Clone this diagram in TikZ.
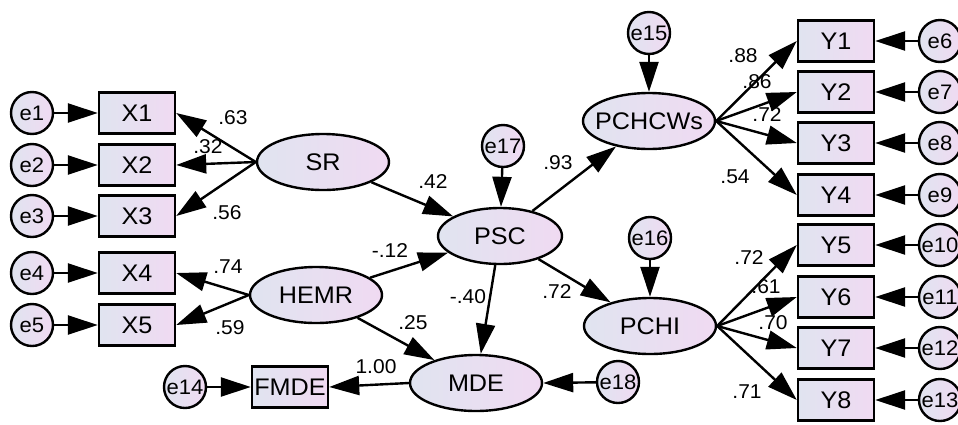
\documentclass[tikz,border=0pt]{standalone}
\usepackage{fontspec}
\setmainfont{Liberation Sans}[FakeStretch=1.05]
\usetikzlibrary{shapes.geometric,arrows.meta}
\definecolor{cL}{RGB}{224,228,240}
\definecolor{cR}{RGB}{240,218,242}
\newcommand\mysize[1]{\fontsize{#1}{#1}\selectfont}
\tikzset{
  base/.style={draw, line width=2.4pt, left color=cL, right color=cR, inner sep=0pt},
  obs/.style={base, rectangle, minimum width=76pt, minimum height=41pt,
    label={[font=\mysize{24}, inner sep=0pt]center:#1}},
  lat/.style={base, ellipse, minimum width=132pt, minimum height=56pt,
    label={[font=\mysize{24}, inner sep=0pt]center:#1}},
  err/.style={base, circle, minimum size=42pt,
    label={[font=\mysize{21}, inner sep=0pt]center:#1}},
  arr/.style={line width=2.4pt, -{Triangle[length=30pt,width=19pt]}},
  lab/.style={font=\mysize{20}, inner sep=0pt}
}
\begin{document}
\begin{tikzpicture}[x=1pt,y=-1pt]
\useasboundingbox (0,0) rectangle (958,424);
% errors left
\node[err=e1] (e1) at (32,113) {};
\node[err=e2] (e2) at (32,165) {};
\node[err=e3] (e3) at (32,216) {};
\node[err=e4] (e4) at (32,273) {};
\node[err=e5] (e5) at (32,325) {};
% X boxes
\node[obs=X1] (X1) at (137,113) {};
\node[obs=X2] (X2) at (137,165) {};
\node[obs=X3] (X3) at (137,216) {};
\node[obs=X4] (X4) at (137,273) {};
\node[obs=X5] (X5) at (137,325) {};
% latent
\node[lat=SR] (SR) at (323,162) {};
\node[lat=HEMR] (HEMR) at (316,295) {};
\node[lat=PSC, minimum width=124pt, minimum height=56pt] (PSC) at (500,236) {};
\node[lat=MDE] (MDE) at (476,383) {};
\node[lat=PCHCWs] (PCHCWs) at (649,121) {};
\node[lat=PCHI] (PCHI) at (650,326) {};
% FMDE
\node[obs=FMDE] (FMDE) at (290,387) {};
\node[err=e14] (e14) at (185,387) {};
% structural errors
\node[err=e17] (e17) at (503,146) {};
\node[err=e18] (e18) at (618,382) {};
\node[err=e15] (e15) at (649,33) {};
\node[err=e16] (e16) at (650,238) {};
% Y boxes
\node[obs=Y1] (Y1) at (836,41) {};
\node[obs=Y2] (Y2) at (836,92) {};
\node[obs=Y3] (Y3) at (836,143) {};
\node[obs=Y4] (Y4) at (836,195) {};
\node[obs=Y5] (Y5) at (836,245) {};
\node[obs=Y6] (Y6) at (836,297) {};
\node[obs=Y7] (Y7) at (836,348) {};
\node[obs=Y8] (Y8) at (836,400) {};
% right errors
\node[err=e6] (e6) at (940,41) {};
\node[err=e7] (e7) at (940,92) {};
\node[err=e8] (e8) at (940,143) {};
\node[err=e9] (e9) at (940,195) {};
\node[err=e10] (e10) at (940,245) {};
\node[err=e11] (e11) at (940,297) {};
\node[err=e12] (e12) at (940,348) {};
\node[err=e13] (e13) at (940,400) {};
% error arrows
\foreach \e/\x in {e1/X1,e2/X2,e3/X3,e4/X4,e5/X5,e14/FMDE}
  \draw[arr] (\e) -- (\x);
\foreach \e/\y in {e6/Y1,e7/Y2,e8/Y3,e9/Y4,e10/Y5,e11/Y6,e12/Y7,e13/Y8}
  \draw[arr] (\e) -- (\y);
\draw[arr] (e17) -- (PSC);
\draw[arr] (e15) -- (PCHCWs);
\draw[arr] (e16) -- (PCHI);
\draw[arr] (e18) -- (MDE.east);
% loadings
\foreach \x in {X1,X2,X3} \draw[arr] (SR.west) -- (\x.east);
\foreach \x in {X4,X5} \draw[arr] (HEMR.west) -- (\x.east);
\foreach \y in {Y1,Y2,Y3,Y4} \draw[arr] (PCHCWs.east) -- (\y.west);
\foreach \y in {Y5,Y6,Y7,Y8} \draw[arr] (PCHI.east) -- (\y.west);
\draw[arr] (MDE.west) -- (FMDE.east);
% structural
\draw[arr] (SR) -- (PSC);
\draw[arr] (HEMR) -- (PSC);
\draw[arr] (HEMR) -- (MDE);
\draw[arr] (PSC) -- (MDE);
\draw[arr] (PSC) -- (PCHCWs);
\draw[arr] (PSC) -- (PCHI);
% labels
\node[lab] (l1) at (233,118) {.63};
\node[lab] (l2) at (208,147) {.32};
\node[lab] (l3) at (227,213) {.56};
\node[lab] (l4) at (228,267) {.74};
\node[lab] (l5) at (230,328) {.59};
\node[lab] (l6) at (376,367) {1.00};
\node[lab] (l7) at (433,182) {.42};
\node[lab] (l8) at (390,251) {-.12};
\node[lab] (l9) at (413,323) {.25};
\node[lab] (l10) at (468,297) {-.40};
\node[lab] (l11) at (558,163) {.93};
\node[lab] (l12) at (557,292) {.72};
\node[lab] (l13) at (743,56) {.88};
\node[lab] (l14) at (757,82) {.86};
\node[lab] (l15) at (767,115) {.72};
\node[lab] (l16) at (735,177) {.54};
\node[lab] (l17) at (749,258) {.72};
\node[lab] (l18) at (766,287) {.61};
\node[lab] (l19) at (773,323) {.70};
\node[lab] (l20) at (747,392) {.71};
\end{tikzpicture}
\end{document}
